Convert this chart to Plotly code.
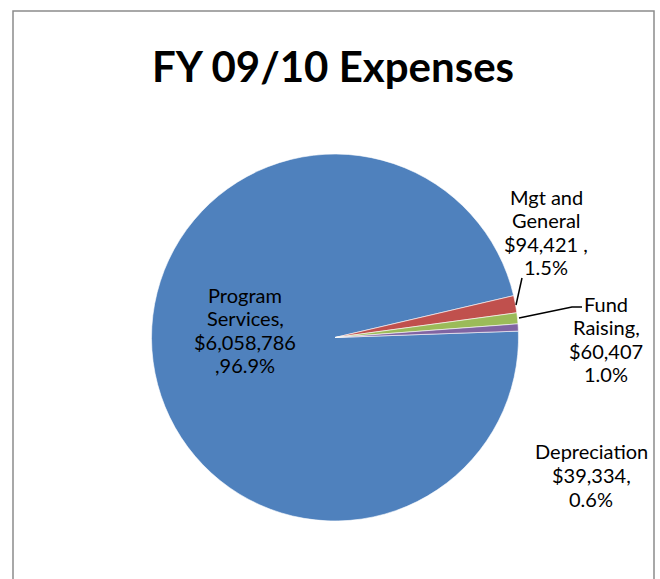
import plotly.graph_objects as go

categories = ["Program Services", "Mgt and General", "Fund Raising", "Depreciation"]
amounts = [6058786, 94421, 60407, 39334]
colors = ["#4F81BD", "#C0504D", "#9BBB59", "#8064A2"]
title_text = "FY 09/10 Expenses"

W, H = 660, 579
total = sum(amounts)
pct = [a / total * 100 for a in amounts]

def px(x):
    return x / W

def py(y):
    return 1 - y / H

fig = go.Figure()
fig.add_trace(go.Pie(
    labels=categories,
    values=amounts,
    sort=False,
    direction="clockwise",
    rotation=88,
    textinfo="none",
    hoverinfo="label+value+percent",
    marker=dict(colors=colors, line=dict(color="white", width=0.6)),
    domain=dict(x=[px(151.5), px(518.5)], y=[py(521), py(154)]),
    showlegend=False,
))

font = dict(family="Lato, Noto Sans, sans-serif", size=20, color="#000000")

def money(v):
    return "${:,}".format(v)

LINE = 23.6
labels = [
    (["Program", "Services,", money(amounts[0]), ",{:.1f}%".format(pct[0])], 245, 330),
    (["Mgt and", "General", money(amounts[1]) + " ,", "{:.1f}%".format(pct[1])], 546, 232),
    (["Fund", "Raising,", money(amounts[2]), "{:.1f}%".format(pct[2])], 606, 339),
    (["Depreciation", money(amounts[3]) + ",", "{:.1f}%".format(pct[3])], 591, 475),
]
annotations = []
for lines, x, yc in labels:
    n = len(lines)
    for i, t in enumerate(lines):
        y = yc + (i - (n - 1) / 2) * LINE
        annotations.append(dict(text=t, x=px(x), y=py(y), xref="paper", yref="paper",
                                showarrow=False, xanchor="center", yanchor="middle",
                                font=font))
annotations.append(dict(
    text="<b>" + title_text + "</b>", x=px(333), y=py(66), xref="paper", yref="paper",
    showarrow=False, xanchor="center", yanchor="middle",
    font=dict(family="Lato, Noto Sans, sans-serif", size=42, color="#000000"),
))

shapes = [
    dict(type="rect", xref="paper", yref="paper", x0=px(13), x1=px(654), y0=-0.05, y1=py(11),
         line=dict(color="#8C8C8C", width=1.5), fillcolor="rgba(0,0,0,0)", layer="below"),
    dict(type="path", xref="paper", yref="paper",
         path="M {} {} L {} {}".format(px(516), py(305), px(522), py(278)),
         line=dict(color="#000000", width=1.5)),
    dict(type="path", xref="paper", yref="paper",
         path="M {} {} L {} {} L {} {}".format(px(519), py(318), px(572), py(307), px(582), py(307)),
         line=dict(color="#000000", width=1.5)),
]

fig.update_layout(
    width=W, height=H,
    margin=dict(l=0, r=0, t=0, b=0),
    paper_bgcolor="white", plot_bgcolor="white",
    annotations=annotations,
    shapes=shapes,
)

fig.write_html("out.html", config={"displayModeBar": False},
               post_script="document.body.style.margin='0';document.body.style.overflow='hidden';")
